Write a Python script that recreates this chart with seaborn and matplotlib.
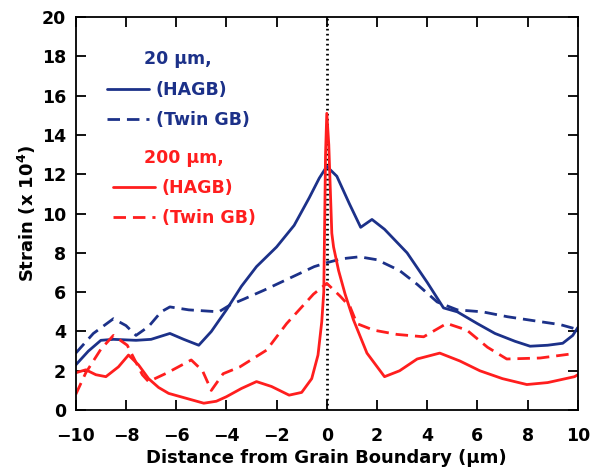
import matplotlib
matplotlib.use("Agg")
import matplotlib.pyplot as plt
from matplotlib.lines import Line2D
import seaborn as sns
import pandas as pd

# values
x_20_hagb = [-10, -9.5, -9.0, -8.5, -7.6, -7.0, -6.25, -5.7, -5.1, -4.6, -4.0, -3.4, -2.8, -2.0,
             -1.3, -0.7, -0.3, 0, 0.4, 0.9, 1.35, 1.8, 2.3, 3.2, 4.0, 4.65, 5.2, 6.0, 6.7, 7.5,
             8.1, 8.8, 9.4, 9.8, 10]
y_20_hagb = [2.3, 3.0, 3.55, 3.6, 3.55, 3.6, 3.9, 3.6, 3.3, 4.0, 5.1, 6.3, 7.3, 8.3,
             9.4, 10.8, 11.8, 12.4, 11.9, 10.5, 9.3, 9.7, 9.2, 8.0, 6.5, 5.2, 5.0, 4.4, 3.9, 3.5,
             3.25, 3.3, 3.4, 3.8, 4.2]

x_20_twin = [-10, -9.3, -8.5, -8.0, -7.6, -7.1, -6.6, -6.25, -5.5, -4.3, -3.85, -3.3, -2.5, -1.5,
             -0.5, 0, 0.6, 1.3, 2.0, 2.9, 3.6, 4.4, 5.2, 6.2, 7.2, 8.5, 9.3, 10]
y_20_twin = [2.9, 3.9, 4.65, 4.3, 3.8, 4.25, 5.0, 5.25, 5.1, 5.0, 5.35, 5.65, 6.1, 6.7,
             7.3, 7.5, 7.7, 7.8, 7.65, 7.1, 6.4, 5.5, 5.1, 5.0, 4.75, 4.5, 4.35, 4.1]

x_200_hagb = [-10, -9.6, -9.2, -8.8, -8.3, -7.9, -7.5, -7.1, -6.7, -6.3, -5.6, -4.9, -4.4, -4.0,
              -3.4, -2.8, -2.2, -1.5, -1.0, -0.6, -0.35, -0.2, -0.12, -0.05, 0, 0.08, 0.2, 0.27,
              0.47, 0.73, 1.06, 1.6, 2.3, 2.9, 3.6, 4.5, 5.3, 6.1, 7.0, 7.97, 8.8, 9.87, 10]
y_200_hagb = [1.9, 2.05, 1.8, 1.7, 2.2, 2.8, 2.3, 1.6, 1.15, 0.85, 0.6, 0.35, 0.45, 0.68,
              1.1, 1.45, 1.2, 0.76, 0.9, 1.6, 2.8, 4.5, 6.0, 13.0, 15.1, 13.5, 9.0, 8.3,
              7.1, 5.9, 4.6, 2.9, 1.7, 2.0, 2.6, 2.9, 2.5, 2.0, 1.6, 1.3, 1.4, 1.7, 1.8]

x_200_twin = [-10, -9.6, -9.0, -8.5, -7.95, -7.35, -7.1, -6.35, -5.4, -4.95, -4.6, -4.13, -3.46,
              -2.4, -1.6, -0.53, 0, 0.53, 0.93, 1.2, 1.86, 2.8, 3.86, 4.78, 5.58, 6.4, 7.17, 8.5, 9.87]
y_200_twin = [0.8, 1.9, 3.1, 3.8, 3.3, 1.8, 1.45, 1.9, 2.55, 2.0, 1.0, 1.85, 2.2,
              3.05, 4.4, 5.9, 6.45, 5.8, 5.25, 4.4, 4.07, 3.85, 3.73, 4.41, 4.07, 3.2, 2.6, 2.65, 2.88]

blue = "#1c3189"
red = "#ff1e1e"

sns.set_style("ticks", {"axes.edgecolor": "black", "text.color": "black",
                        "xtick.color": "black", "ytick.color": "black",
                        "axes.labelcolor": "black"})
plt.rcParams['font.family'] = ['DejaVu Sans']
plt.rcParams['font.weight'] = 'bold'

fig = plt.figure(figsize=(5.92, 4.73), dpi=100)
ax = fig.add_axes([0.128, 0.133, 0.848, 0.831])

dash = (4.5, 2.5)
sns.lineplot(x=x_20_hagb, y=y_20_hagb, sort=False, color=blue, lw=2, ax=ax)
sns.lineplot(x=x_20_twin, y=y_20_twin, sort=False, color=blue, lw=2, ax=ax)
ax.lines[-1].set_dashes(dash)
sns.lineplot(x=x_200_hagb, y=y_200_hagb, sort=False, color=red, lw=2, ax=ax)
sns.lineplot(x=x_200_twin, y=y_200_twin, sort=False, color=red, lw=2, ax=ax)
ax.lines[-1].set_dashes(dash)

# grain boundary
ax.axvline(0, color="black", lw=2, ls=(0, (0.6, 1.2)), zorder=1)

ax.set_xlim(-10, 10)
ax.set_ylim(0, 20)
ax.set_xticks(range(-10, 11, 2))
ax.set_yticks(range(0, 21, 2))
ax.set_xticklabels([f"{v}".replace("-", "\u2212") for v in range(-10, 11, 2)])
ax.tick_params(direction="in", length=7, width=1.3, top=True, right=True, labelsize=12.5,
               colors="black")
ax.tick_params(axis="x", pad=12)
ax.tick_params(axis="y", pad=7)
for s in ax.spines.values():
    s.set_linewidth(1.3)
    s.set_color("black")
ax.set_xlabel("Distance from Grain Boundary (\u00b5m)", fontsize=13, fontweight="bold", labelpad=3)
ax.set_ylabel("Strain (x 10$^\\mathbf{4}$)", fontsize=13, fontweight="bold", labelpad=3)

h1 = [Line2D([], [], color=blue, lw=2), Line2D([], [], color=blue, lw=2, dashes=dash)]
h2 = [Line2D([], [], color=red, lw=2), Line2D([], [], color=red, lw=2, dashes=dash)]
leg1 = ax.legend(h1, ["(HAGB)", "(Twin GB)"], title="20 \u00b5m,", loc="upper left",
                 bbox_to_anchor=(0.062, 0.915), frameon=False, handlelength=2.4, handletextpad=0.4,
                 labelspacing=0.7, borderaxespad=0, borderpad=0,
                 prop={"size": 12.5, "weight": "bold"})
leg1.get_title().set_color(blue)
leg1.get_title().set_fontsize(12.5)
leg1.get_title().set_fontweight("bold")
for t in leg1.get_texts():
    t.set_color(blue)
ax.add_artist(leg1)
leg2 = ax.legend(h2, ["(HAGB)", "(Twin GB)"], title="200 \u00b5m,", loc="upper left",
                 bbox_to_anchor=(0.074, 0.665), frameon=False, handlelength=2.4, handletextpad=0.4,
                 labelspacing=0.7, borderaxespad=0, borderpad=0,
                 prop={"size": 12.5, "weight": "bold"})
leg2.get_title().set_color(red)
leg2.get_title().set_fontsize(12.5)
leg2.get_title().set_fontweight("bold")
for t in leg2.get_texts():
    t.set_color(red)

fig.savefig("out.png", dpi=100)
